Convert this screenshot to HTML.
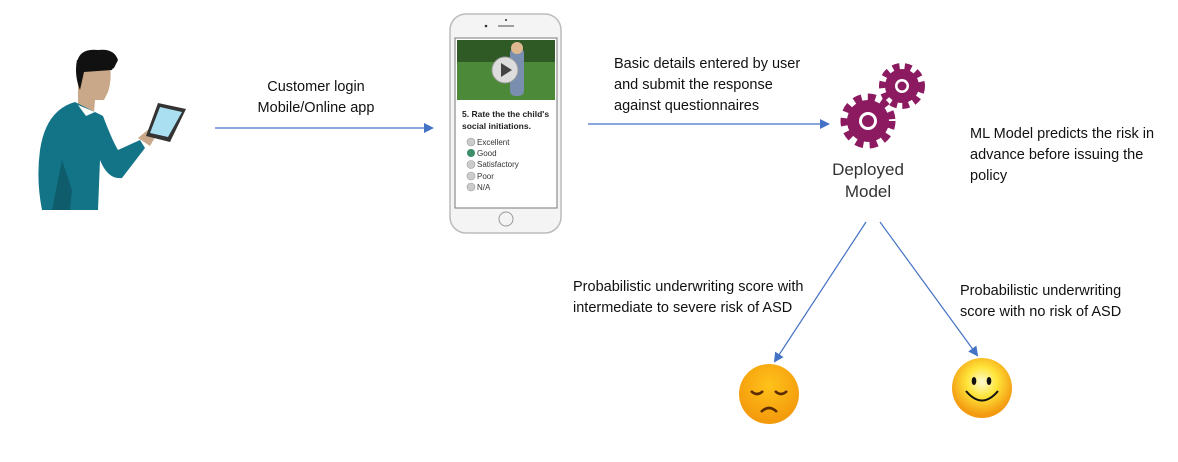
<!DOCTYPE html>
<html><head><meta charset="utf-8"><style>
html,body{margin:0;padding:0;background:#fff;}
svg{display:block;}
.t{font-family:"Liberation Sans",sans-serif;font-size:14.5px;fill:#111;}
</style></head><body>
<svg width="1178" height="462" viewBox="0 0 1178 462" xmlns="http://www.w3.org/2000/svg">
<defs>
<marker id="ah" markerWidth="10" markerHeight="10" refX="8" refY="5" orient="auto" markerUnits="userSpaceOnUse">
<path d="M0,0 L10,5 L0,10 z" fill="#4472c4"/></marker>
<radialGradient id="sad" cx="50%" cy="35%" r="60%"><stop offset="0" stop-color="#ffc21a"/><stop offset="1" stop-color="#f49b0c"/></radialGradient>
<radialGradient id="hap" cx="50%" cy="40%" r="55%"><stop offset="0" stop-color="#fffbd0"/><stop offset="0.45" stop-color="#ffe53a"/><stop offset="1" stop-color="#f39a10"/></radialGradient>
</defs>

<!-- person -->
<path d="M77,62 Q80,48 98,50 Q114,48 118,60 L114,68 L110,70 Z" fill="#111"/>
<path d="M78,65 L110,66 Q112,80 108,92 L104,100 L95,100 L94,112 L78,108 Z" fill="#c8a888"/>
<path d="M77,60 Q74,75 80,90 L84,72 L112,70 L115,62 Z" fill="#111"/>
<path d="M75,102 L95,112 L103,116 Q112,140 118,150 L140,140 L145,148 L122,178 Q108,180 100,160 L98,210 L42,210 Q36,180 40,150 Q46,110 75,102 Z" fill="#137488"/>
<path d="M62,160 L72,190 L70,210 L52,210 Z" fill="#0e5c6c"/>
<path d="M78,105 L95,112 L86,116 Z" fill="#fff"/>
<path d="M138,138 L150,128 L158,132 L150,146 Z" fill="#c8a888"/>
<path d="M158,103 L186,109 L170,142 L146,136 Z" fill="#333"/>
<path d="M160,107 L182,112 L168,137 L150,133 Z" fill="#a9dff0"/>

<!-- arrow 1 -->
<line x1="215" y1="128" x2="432" y2="128" stroke="#4472c4" stroke-width="1.2" marker-end="url(#ah)"/>
<text class="t" x="316" y="91" text-anchor="middle">Customer login</text>
<text class="t" x="316" y="112" text-anchor="middle">Mobile/Online app</text>

<!-- phone -->
<rect x="450" y="14" width="111" height="219" rx="16" fill="#f4f4f4" stroke="#bbb" stroke-width="1.5"/>
<circle cx="486" cy="26" r="1.3" fill="#333"/>
<line x1="498" y1="26" x2="514" y2="26" stroke="#666" stroke-width="1.2"/>
<circle cx="506" cy="20" r="1" fill="#333"/>
<rect x="455" y="38" width="102" height="170" fill="#fff" stroke="#777"/>
<rect x="457" y="40" width="98" height="60" fill="#4c8a3a"/>
<rect x="457" y="40" width="98" height="22" fill="#2f5a26"/>
<rect x="510" y="48" width="14" height="48" rx="5" fill="#7a8fb0"/>
<circle cx="517" cy="48" r="6" fill="#e0b890"/>
<circle cx="505" cy="70" r="13" fill="#ddd" stroke="#999"/>
<path d="M501,63 L512,70 L501,77 Z" fill="#444"/>
<text x="462" y="117" font-family="Liberation Sans,sans-serif" font-size="8.5" font-weight="bold" fill="#222">5. Rate the the child's</text>
<text x="462" y="129" font-family="Liberation Sans,sans-serif" font-size="8.5" font-weight="bold" fill="#222">social initiations.</text>
<g font-family="Liberation Sans,sans-serif" font-size="8" fill="#333">
<circle cx="471" cy="142" r="4" fill="#ccc" stroke="#999" stroke-width=".6"/><text x="477" y="145">Excellent</text>
<circle cx="471" cy="153" r="4" fill="#3d8c6a"/><text x="477" y="156">Good</text>
<circle cx="471" cy="164.5" r="4" fill="#ccc" stroke="#999" stroke-width=".6"/><text x="477" y="167">Satisfactory</text>
<circle cx="471" cy="176" r="4" fill="#ccc" stroke="#999" stroke-width=".6"/><text x="477" y="179">Poor</text>
<circle cx="471" cy="187" r="4" fill="#ccc" stroke="#999" stroke-width=".6"/><text x="477" y="190">N/A</text>
</g>
<circle cx="506" cy="219" r="7" fill="none" stroke="#999"/>

<!-- arrow 2 -->
<line x1="588" y1="124" x2="828" y2="124" stroke="#4472c4" stroke-width="1.2" marker-end="url(#ah)"/>
<text class="t" x="614" y="68">Basic details entered by user</text>
<text class="t" x="614" y="89">and submit the response</text>
<text class="t" x="614" y="110">against questionnaires</text>

<!-- gears -->
<circle cx="902" cy="86" r="19" fill="none" stroke="#8c1a60" stroke-width="8" stroke-dasharray="6.5 5"/>
<circle cx="902" cy="86" r="17" fill="#8c1a60"/>
<circle cx="902" cy="86" r="7" fill="#fff"/>
<circle cx="902" cy="86" r="4.5" fill="#8c1a60"/>
<circle cx="868" cy="121" r="23" fill="none" stroke="#8c1a60" stroke-width="9" stroke-dasharray="7.5 6"/>
<circle cx="868" cy="121" r="21" fill="#8c1a60"/>
<circle cx="868" cy="121" r="9" fill="#fff"/>
<circle cx="868" cy="121" r="6" fill="#8c1a60"/>
<text x="868" y="175" text-anchor="middle" font-family="Liberation Sans,sans-serif" font-size="17" fill="#333">Deployed</text>
<text x="868" y="197" text-anchor="middle" font-family="Liberation Sans,sans-serif" font-size="17" fill="#333">Model</text>

<text class="t" x="970" y="138">ML Model predicts the risk in</text>
<text class="t" x="970" y="159">advance before issuing the</text>
<text class="t" x="970" y="180">policy</text>

<!-- down arrows -->
<line x1="866" y1="222" x2="775" y2="361" stroke="#4472c4" stroke-width="1.2" marker-end="url(#ah)"/>
<line x1="880" y1="222" x2="977" y2="355" stroke="#4472c4" stroke-width="1.2" marker-end="url(#ah)"/>
<text class="t" x="573" y="291">Probabilistic underwriting score with</text>
<text class="t" x="573" y="312">intermediate to severe risk of ASD</text>
<text class="t" x="960" y="295">Probabilistic underwriting</text>
<text class="t" x="960" y="316">score with no risk of ASD</text>

<!-- sad -->
<circle cx="769" cy="394" r="30" fill="url(#sad)"/>
<path d="M751,391 Q757,397 763,391" fill="none" stroke="#5a2c00" stroke-width="2.5"/>
<path d="M775,391 Q781,397 787,391" fill="none" stroke="#5a2c00" stroke-width="2.5"/>
<path d="M761,412 Q769,404 777,412" fill="none" stroke="#5a2c00" stroke-width="2.5"/>
<!-- happy -->
<circle cx="982" cy="388" r="30" fill="url(#hap)"/>
<ellipse cx="974" cy="381" rx="2.3" ry="4" fill="#111"/>
<ellipse cx="989" cy="381" rx="2.3" ry="4" fill="#111"/>
<path d="M966,391 Q982,410 998,391" fill="none" stroke="#111" stroke-width="2"/>
</svg>
</body></html>
